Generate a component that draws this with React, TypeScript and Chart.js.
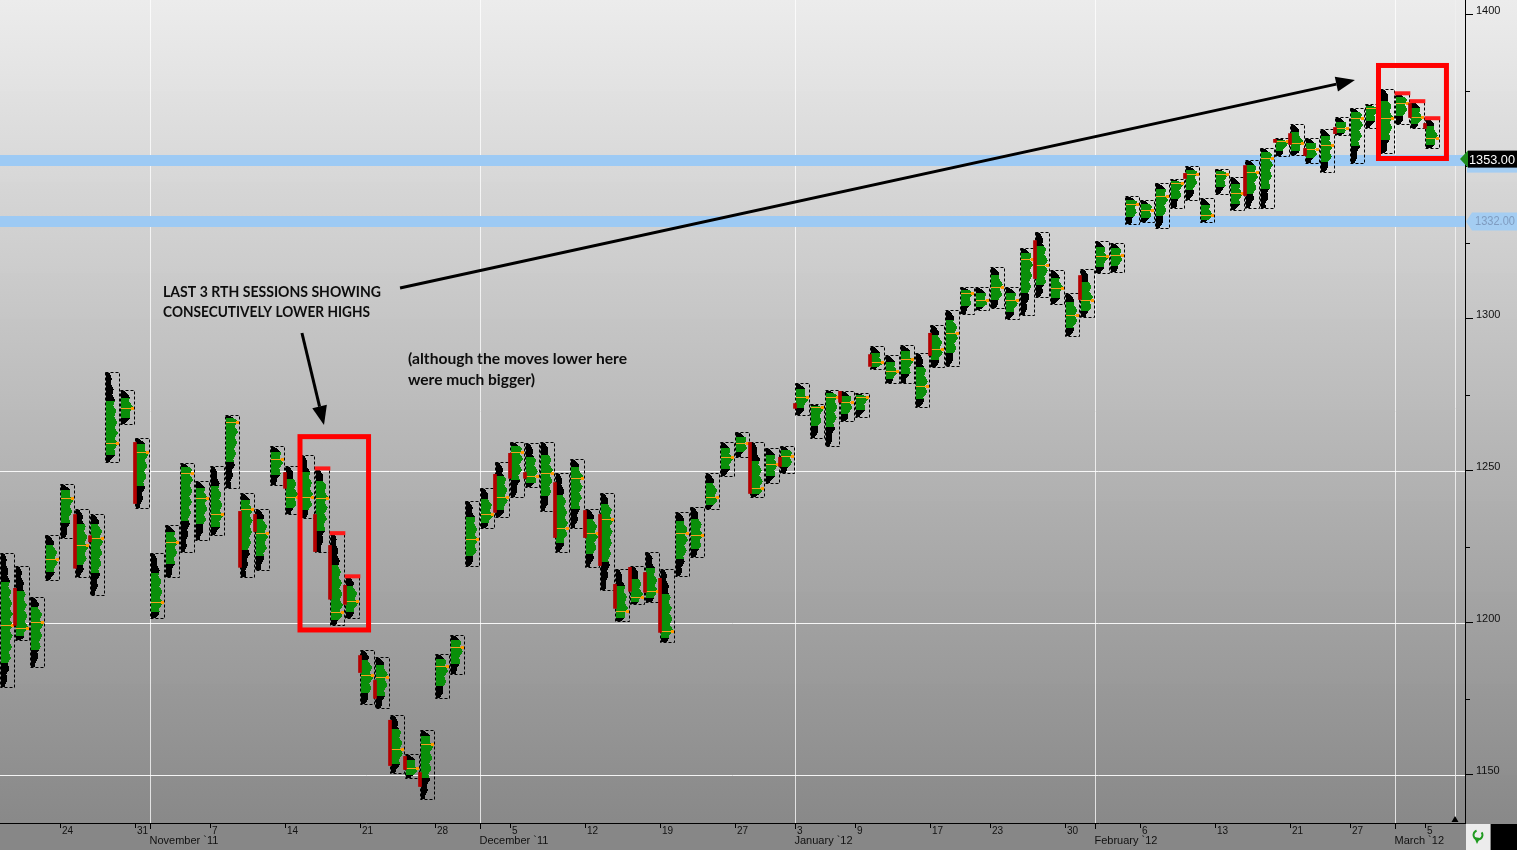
import React, { useEffect, useRef } from 'react';
import { Chart, registerables } from 'chart.js';
Chart.register(...registerables);

// ---------- DATA ----------
const sessionDates = [
  '2011-10-18','2011-10-19','2011-10-20','2011-10-21','2011-10-24','2011-10-25','2011-10-26','2011-10-27','2011-10-28','2011-10-31',
  '2011-11-01','2011-11-02','2011-11-03','2011-11-04','2011-11-07','2011-11-08','2011-11-09','2011-11-10','2011-11-11','2011-11-14',
  '2011-11-15','2011-11-16','2011-11-17','2011-11-18','2011-11-21','2011-11-22','2011-11-23','2011-11-24','2011-11-25','2011-11-28',
  '2011-11-29','2011-11-30','2011-12-01','2011-12-02','2011-12-05','2011-12-06','2011-12-07','2011-12-08','2011-12-09','2011-12-12',
  '2011-12-13','2011-12-14','2011-12-15','2011-12-16','2011-12-19','2011-12-20','2011-12-21','2011-12-22','2011-12-23','2011-12-27',
  '2011-12-28','2011-12-29','2011-12-30','2012-01-03','2012-01-04','2012-01-05','2012-01-06','2012-01-09','2012-01-10','2012-01-11',
  '2012-01-12','2012-01-13','2012-01-17','2012-01-18','2012-01-19','2012-01-20','2012-01-23','2012-01-24','2012-01-25','2012-01-26',
  '2012-01-27','2012-01-30','2012-01-31','2012-02-01','2012-02-02','2012-02-03','2012-02-06','2012-02-07','2012-02-08','2012-02-09',
  '2012-02-10','2012-02-13','2012-02-14','2012-02-15','2012-02-16','2012-02-17','2012-02-21','2012-02-22','2012-02-23','2012-02-24',
  '2012-02-27','2012-02-28','2012-02-29','2012-03-01','2012-03-02','2012-03-05'
];

const sessionHigh = [
  1222.8,1218.5,1208.6,1229.0,1245.5,1237.3,1235.6,1282.3,1276.4,1260.6,
  1222.8,1232.0,1252.4,1246.5,1251.7,1268.2,1242.5,1237.3,1258.0,1251.4,
  1255.3,1250.7,1229.4,1215.2,1190.9,1188.6,1169.5,1156.7,1164.6,1189.6,
  1196.1,1239.9,1244.2,1252.7,1259.3,1259.0,1259.6,1249.1,1253.7,1237.3,
  1242.5,1217.5,1218.5,1223.4,1217.5,1236.3,1237.9,1249.4,1259.3,1262.6,
  1259.6,1257.3,1258.0,1278.7,1272.1,1276.7,1276.1,1275.7,1290.9,1288.2,
  1291.5,1288.6,1297.8,1303.0,1310.3,1310.3,1316.9,1310.3,1323.1,1328.4,
  1315.9,1308.6,1316.2,1325.7,1324.8,1340.5,1339.2,1344.5,1346.1,1350.1,
  1339.6,1349.4,1346.5,1352.1,1356.0,1359.6,1364.2,1359.3,1362.3,1366.2,
  1369.2,1370.5,1375.7,1374.1,1371.5,1365.9
];

const sessionLow = [
  1178.7,1194.2,1185.3,1214.2,1227.7,1214.9,1209.0,1253.0,1265.2,1237.6,
  1201.7,1214.9,1223.1,1227.1,1229.0,1244.2,1214.9,1217.2,1245.2,1235.9,
  1234.3,1223.1,1199.1,1201.4,1173.1,1171.8,1150.7,1148.8,1141.9,1175.1,
  1183.0,1218.8,1231.3,1234.6,1241.2,1244.5,1236.6,1223.1,1231.0,1218.2,
  1210.9,1200.7,1206.0,1206.7,1193.5,1215.2,1221.5,1237.3,1248.1,1254.4,
  1241.2,1245.8,1249.1,1268.2,1260.9,1258.0,1266.5,1267.5,1283.3,1279.0,
  1279.0,1270.8,1284.0,1284.6,1301.7,1303.0,1303.4,1299.8,1301.1,1307.0,
  1304.7,1294.2,1300.4,1314.9,1315.5,1331.3,1331.7,1329.7,1336.3,1339.2,
  1331.7,1340.9,1335.9,1336.3,1336.3,1353.4,1353.7,1351.1,1348.1,1360.3,
  1351.1,1362.6,1354.4,1364.2,1362.6,1356.0
];

const sessionPoc = [
  1199.1,1198.1,1200.1,1220.8,1240.9,1225.4,1227.7,1259.0,1270.5,1256.0,
  1206.7,1226.4,1249.4,1240.9,1235.9,1265.9,1237.3,1229.4,1254.0,1241.2,
  1241.5,1240.9,1203.4,1207.0,1182.7,1182.0,1158.6,1152.1,1160.0,1185.9,
  1191.9,1227.4,1235.9,1241.5,1256.0,1248.4,1249.4,1231.3,1247.5,1229.4,
  1234.0,1203.7,1208.6,1210.3,1197.1,1229.4,1229.0,1241.5,1254.4,1259.0,
  1244.2,1252.1,1254.7,1274.4,1270.8,1274.1,1272.5,1274.1,1285.6,1282.7,
  1286.6,1278.0,1290.1,1295.2,1308.3,1306.0,1310.3,1306.0,1319.5,1317.5,
  1310.0,1301.1,1306.0,1320.5,1320.8,1337.6,1335.9,1340.2,1344.5,1347.5,
  1334.0,1347.5,1341.2,1348.1,1353.0,1358.3,1357.7,1355.7,1357.3,1362.6,
  1365.9,1369.2,1365.9,1370.8,1366.2,1359.3
];

// initial-balance (red) bars: session index, top, bottom
const ibIndex = [1,5,6,9,16,17,19,21,22,23,24,25,26,27,28,33,34,35,37,39,40,41,42,43,44,50,52,53,56,58,62,69,72,79,83,85,86,87,89,94,95];
const ibHigh = [1211.3,1235.6,1228.6,1259.3,1236.6,1235.6,1249.4,1235.6,1225.4,1212.3,1189.2,1181.0,1167.9,1156.0,1150.7,1248.8,1255.7,1249.4,1246.1,1236.9,1235.6,1212.6,1218.2,1216.5,1214.6,1259.3,1254.4,1272.1,1276.1,1288.2,1295.2,1325.7,1314.2,1347.8,1350.4,1359.0,1360.9,1356.0,1362.9,1370.8,1364.2];
const ibLow = [1199.1,1217.9,1226.6,1239.2,1218.2,1230.0,1244.2,1223.4,1207.7,1206.0,1183.6,1175.1,1153.0,1151.7,1146.1,1236.3,1247.5,1247.5,1228.0,1228.0,1218.8,1204.7,1210.3,1210.0,1196.8,1242.5,1251.4,1270.5,1272.5,1284.3,1287.9,1313.2,1306.3,1346.1,1340.5,1358.0,1357.3,1353.7,1360.9,1366.2,1362.6];

// sessions whose highs are marked in red (consecutively lower highs)
const lowerHighIndex = [21, 22, 23, 93, 94, 95];

// x-axis ticks
const dayTickIndex = [4, 9, 14, 19, 24, 29, 34, 39, 44, 49, 53, 57, 62, 66, 71, 76, 81, 86, 90, 95];
const dayTickLabels = ['24','31','7','14','21','28','5','12','19','27','3','9','17','23','30','6','13','21','27','5'];
const monthIndex = [10, 32, 53, 73, 93];
const monthLabels = ['November `11', 'December `11', 'January `12', 'February `12', 'March `12'];

// y-axis
const yTickValues = [1150, 1175, 1200, 1225, 1250, 1275, 1300, 1325, 1350, 1375, 1400];
const gridPrices = [1150, 1200, 1250];

// horizontal levels
const levelPrices = [1352.0, 1332.0];
const levelLabels = ['1353.00', '1332.00'];

// annotations (data coordinates)
const highlightBoxes = [
  [20.0, 24.57, 1261.2, 1197.6],
  [91.9, 96.43, 1383.3, 1352.7],
];
const arrowLines = [
  [26.67, 1310.1, 90.33, 1378.5],
  [20.13, 1295.3, 21.6, 1265.0],
];
const noteTexts = ['LAST 3 RTH SESSIONS SHOWING', 'CONSECUTIVELY LOWER HIGHS', '(although the moves lower here', 'were much bigger)'];
const noteX = [10.87, 10.87, 27.2, 27.2];
const noteY = [1307.1, 1300.6, 1285.1, 1278.2];
const noteWidth = [218, 207, 219, 127];

const CURRENT_INDEX = 97.0;

// ---------- RENDERING ----------
const W = 1517;
const H = 850;
const grey = (l: number) => {
  const v = Math.round(Math.max(0, Math.min(255, l)));
  return `rgb(${v},${v},${v})`;
};

export default function App() {
  const ref = useRef<HTMLCanvasElement>(null);

  useEffect(() => {
    const canvas = ref.current;
    if (!canvas) return;

    const bgPlugin = {
      id: 'bgPlugin',
      beforeDraw(chart: any) {
        const { ctx, chartArea: ca } = chart;
        ctx.save();
        const bandH = 45.6;
        for (let k = 0; k * bandH < H; k++) {
          const y0 = k * bandH;
          const mid = Math.min(y0 + bandH / 2, ca.bottom);
          const L = 237 - (mid / ca.bottom) * 100;
          const g = ctx.createLinearGradient(0, y0, 0, y0 + bandH);
          g.addColorStop(0, grey(L + 2));
          g.addColorStop(1, grey(L - 3));
          ctx.fillStyle = g;
          ctx.fillRect(0, Math.floor(y0), W, Math.ceil(bandH) + 1);
        }
        ctx.fillStyle = '#878787';
        ctx.fillRect(0, ca.bottom, ca.right + 1, H - ca.bottom);
        ctx.restore();
      },
    };

    const sessionPlugin = {
      id: 'sessionPlugin',
      beforeDatasetsDraw(chart: any) {
        const { ctx, chartArea: ca } = chart;
        const xs = chart.scales.x;
        const ys = chart.scales.y;
        ctx.save();
        ctx.beginPath();
        ctx.rect(ca.left, ca.top, ca.right - ca.left, ca.bottom - ca.top);
        ctx.clip();

        // white grid lines
        ctx.strokeStyle = 'rgba(255,255,255,0.9)';
        ctx.lineWidth = 1;
        gridPrices.forEach((p) => {
          const y = Math.round(ys.getPixelForValue(p)) + 0.5;
          ctx.beginPath();
          ctx.moveTo(ca.left, y);
          ctx.lineTo(ca.right, y);
          ctx.stroke();
        });
        ctx.strokeStyle = 'rgba(255,255,255,0.75)';
        monthIndex.forEach((i) => {
          const x = Math.round(xs.getPixelForValue(i)) + 0.5;
          ctx.beginPath();
          ctx.moveTo(x, ca.top);
          ctx.lineTo(x, ca.bottom);
          ctx.stroke();
        });
        {
          const x = Math.round(xs.getPixelForValue(CURRENT_INDEX)) + 0.5;
          ctx.strokeStyle = 'rgba(240,240,240,0.9)';
          ctx.beginPath();
          ctx.moveTo(x, ca.top);
          ctx.lineTo(x, ca.bottom - 6);
          ctx.stroke();
          ctx.fillStyle = '#000';
          ctx.beginPath();
          ctx.moveTo(x - 4, ca.bottom - 1);
          ctx.lineTo(x + 3, ca.bottom - 1);
          ctx.lineTo(x - 0.5, ca.bottom - 7);
          ctx.closePath();
          ctx.fill();
        }

        // blue levels
        ctx.strokeStyle = '#9dcaf4';
        ctx.lineWidth = 11;
        levelPrices.forEach((p) => {
          const y = ys.getPixelForValue(p);
          ctx.beginPath();
          ctx.moveTo(ca.left, y);
          ctx.lineTo(ca.right, y);
          ctx.stroke();
        });

        // market profiles
        for (let i = 0; i < sessionDates.length; i++) {
          const xl = Math.round(xs.getPixelForValue(i));
          const xr = Math.round(xs.getPixelForValue(i + 1));
          const yT = Math.round(ys.getPixelForValue(sessionHigh[i]));
          const yB = Math.round(ys.getPixelForValue(sessionLow[i]));
          const yP = Math.round(ys.getPixelForValue(sessionPoc[i]));
          const up = Math.max(3, yP - yT);
          const dn = Math.max(3, yB - yP);
          const vaT = yP - up * 0.6;
          const vaB = yP + dn * 0.6;
          const maxW = xr - xl - 3;
          for (let y = yT + 1; y < yB; y++) {
            const d = Math.min(1, y < yP ? (yP - y) / up : (y - yP) / dn);
            const ph = ((y - yT) % 11) / 11;
            const tri = 1 - Math.abs(2 * ph - 1);
            const rip = 0.74 + 0.26 * tri;
            const w = Math.max(1, Math.round(maxW * (1 - 0.62 * d * d) * rip));
            ctx.fillStyle = y < vaT || y > vaB ? '#000000' : '#0a8f0a';
            ctx.fillRect(xl + 1, y, w, 1);
          }
          // dashed range box
          ctx.strokeStyle = '#000';
          ctx.lineWidth = 1;
          ctx.setLineDash([3, 2]);
          ctx.strokeRect(xl + 0.5, yT + 0.5, xr - xl - 1, yB - yT);
          ctx.setLineDash([]);
          // point of control
          ctx.strokeStyle = '#f2a21c';
          ctx.beginPath();
          ctx.moveTo(xl + 1, yP + 0.5);
          ctx.lineTo(xr - 2, yP + 0.5);
          ctx.stroke();
          ctx.fillStyle = '#ff9800';
          ctx.fillRect(xr - 4, yP - 1, 3, 3);
        }
        ctx.restore();
      },
      afterDatasetsDraw(chart: any) {
        const { ctx } = chart;
        const xs = chart.scales.x;
        const ys = chart.scales.y;
        ctx.save();
        // red highlight boxes
        ctx.strokeStyle = '#ff0000';
        ctx.lineWidth = 5;
        highlightBoxes.forEach(([x1, x2, p1, p2]) => {
          const a = xs.getPixelForValue(x1);
          const b = xs.getPixelForValue(x2);
          const c = ys.getPixelForValue(p1);
          const d = ys.getPixelForValue(p2);
          ctx.strokeRect(a, c, b - a, d - c);
        });
        // arrows
        ctx.strokeStyle = '#000';
        ctx.fillStyle = '#000';
        ctx.lineWidth = 3;
        arrowLines.forEach(([x1, p1, x2, p2]) => {
          const ax = xs.getPixelForValue(x1);
          const ay = ys.getPixelForValue(p1);
          const bx = xs.getPixelForValue(x2);
          const by = ys.getPixelForValue(p2);
          const ang = Math.atan2(by - ay, bx - ax);
          const hl = 19;
          const hw = 7.5;
          const cx = bx - hl * Math.cos(ang);
          const cy = by - hl * Math.sin(ang);
          ctx.beginPath();
          ctx.moveTo(ax, ay);
          ctx.lineTo(cx, cy);
          ctx.stroke();
          ctx.beginPath();
          ctx.moveTo(bx, by);
          ctx.lineTo(cx + hw * Math.sin(ang), cy - hw * Math.cos(ang));
          ctx.lineTo(cx - hw * Math.sin(ang), cy + hw * Math.cos(ang));
          ctx.closePath();
          ctx.fill();
        });
        // notes
        ctx.fillStyle = '#0d0d0d';
        ctx.textBaseline = 'alphabetic';
        ctx.textAlign = 'left';
        ctx.font = 'bold 15px Lato, "Open Sans", sans-serif';
        noteTexts.forEach((t, k) => {
          const px = xs.getPixelForValue(noteX[k]);
          const py = ys.getPixelForValue(noteY[k]);
          const m = ctx.measureText(t).width;
          ctx.save();
          ctx.translate(px, py);
          ctx.scale(noteWidth[k] / m, 1);
          ctx.fillText(t, 0, 0);
          ctx.restore();
        });
        ctx.restore();
      },
      afterDraw(chart: any) {
        const { ctx, chartArea: ca } = chart;
        const xs = chart.scales.x;
        const ys = chart.scales.y;
        ctx.save();
        // x axis baseline
        ctx.strokeStyle = '#000';
        ctx.lineWidth = 1;
        ctx.beginPath();
        ctx.moveTo(0, ca.bottom + 0.5);
        ctx.lineTo(ca.right + 1, ca.bottom + 0.5);
        ctx.stroke();
        // day ticks
        ctx.fillStyle = '#111';
        ctx.textAlign = 'left';
        ctx.textBaseline = 'alphabetic';
        ctx.font = '10px "Liberation Sans", Arial, sans-serif';
        dayTickIndex.forEach((i, k) => {
          const x = Math.round(xs.getPixelForValue(i)) + 0.5;
          ctx.beginPath();
          ctx.moveTo(x, ca.bottom);
          ctx.lineTo(x, ca.bottom + 5);
          ctx.stroke();
          ctx.fillText(dayTickLabels[k], x + 1.5, ca.bottom + 11);
        });
        ctx.font = '11px "Liberation Sans", Arial, sans-serif';
        monthIndex.forEach((i, k) => {
          const x = Math.round(xs.getPixelForValue(i)) + 0.5;
          ctx.beginPath();
          ctx.moveTo(x, ca.bottom);
          ctx.lineTo(x, ca.bottom + 6);
          ctx.stroke();
          ctx.fillText(monthLabels[k], x - 1, ca.bottom + 21);
        });
        // minor y ticks
        const axX = ys.left;
        yTickValues.forEach((v) => {
          if (v % 50 !== 0) {
            const y = Math.round(ys.getPixelForValue(v)) + 0.5;
            ctx.beginPath();
            ctx.moveTo(axX, y);
            ctx.lineTo(axX + 5, y);
            ctx.stroke();
          }
        });
        // level labels on price axis
        const y1 = ys.getPixelForValue(levelPrices[0]);
        ctx.fillStyle = '#a4cdf2';
        ctx.fillRect(axX + 2, y1 - 5, W - axX - 2, 17);
        ctx.fillStyle = '#000';
        ctx.fillRect(axX + 3, y1 - 10, W - axX - 3, 17);
        ctx.fillStyle = '#1d8c1d';
        ctx.beginPath();
        ctx.moveTo(axX - 5, y1 - 1.5);
        ctx.lineTo(axX + 3, y1 - 10);
        ctx.lineTo(axX + 3, y1 + 7);
        ctx.closePath();
        ctx.fill();
        ctx.fillStyle = '#fff';
        ctx.font = '13px "Liberation Sans", Arial, sans-serif';
        {
          const m = ctx.measureText(levelLabels[0]).width;
          ctx.save();
          ctx.translate(axX + 4, y1 + 3);
          ctx.scale(46 / m, 1);
          ctx.fillText(levelLabels[0], 0, 0);
          ctx.restore();
        }

        const y2 = ys.getPixelForValue(levelPrices[1]);
        ctx.fillStyle = '#a4cdf2';
        ctx.beginPath();
        ctx.moveTo(axX + 1, y2);
        ctx.lineTo(axX + 7, y2 - 9);
        ctx.lineTo(W, y2 - 9);
        ctx.lineTo(W, y2 + 9);
        ctx.lineTo(axX + 7, y2 + 9);
        ctx.closePath();
        ctx.fill();
        ctx.fillStyle = '#7f9cc0';
        ctx.font = '12px "Liberation Sans", Arial, sans-serif';
        {
          const m = ctx.measureText(levelLabels[1]).width;
          ctx.save();
          ctx.translate(axX + 10, y2 + 4);
          ctx.scale(40 / m, 1);
          ctx.fillText(levelLabels[1], 0, 0);
          ctx.restore();
        }

        // bottom-right corner widgets
        ctx.fillStyle = '#ececec';
        ctx.fillRect(axX + 1, ca.bottom + 1, 24, H - ca.bottom);
        ctx.fillStyle = '#000';
        ctx.fillRect(axX + 26, ca.bottom + 1, W - axX - 26, H - ca.bottom);
        ctx.strokeStyle = '#1e9a1e';
        ctx.lineWidth = 2;
        ctx.beginPath();
        ctx.arc(axX + 13, ca.bottom + 12, 4.5, -Math.PI * 0.2, Math.PI * 1.4);
        ctx.stroke();
        ctx.fillStyle = '#1e9a1e';
        ctx.beginPath();
        ctx.moveTo(axX + 9, ca.bottom + 14);
        ctx.lineTo(axX + 12, ca.bottom + 21);
        ctx.lineTo(axX + 15, ca.bottom + 15);
        ctx.closePath();
        ctx.fill();
        ctx.restore();
      },
    };

    const chart = new Chart(canvas, {
      type: 'bar',
      data: {
        datasets: [
          {
            type: 'bar',
            label: 'Initial balance',
            data: ibIndex.map((d, k) => ({ x: d, y: [ibLow[k], ibHigh[k]] })) as any,
            backgroundColor: '#b40000',
            barThickness: 3,
            grouped: false,
          } as any,
          {
            type: 'bar',
            label: 'Lower highs',
            data: lowerHighIndex.map((i) => ({ x: i + 0.5, y: [sessionHigh[i] - 0.5, sessionHigh[i] + 0.6] })) as any,
            backgroundColor: '#ff1a1a',
            barThickness: 15,
            grouped: false,
          } as any,
        ],
      },
      options: {
        animation: false,
        responsive: false,
        maintainAspectRatio: false,
        devicePixelRatio: 1,
        layout: { padding: { left: 0, right: 0, top: 0, bottom: 27 } },
        plugins: { legend: { display: false }, tooltip: { enabled: false } },
        scales: {
          x: {
            type: 'linear',
            min: 0,
            max: 97.667,
            offset: false,
            display: false,
            grid: { offset: false },
          },
          y: {
            type: 'linear',
            position: 'right',
            min: 1134.1,
            max: 1404.84,
            beginAtZero: false,
            afterBuildTicks: (scale: any) => {
              scale.ticks = yTickValues.map((v) => ({ value: v }));
            },
            afterFit: (scale: any) => {
              scale.width = 52;
              scale.paddingTop = 0;
              scale.paddingBottom = 0;
            },
            border: { display: true, color: '#000', width: 1 },
            grid: {
              drawOnChartArea: false,
              drawTicks: true,
              tickLength: 8,
              tickColor: (c: any) => (c.tick && c.tick.value % 50 === 0 ? '#000' : 'rgba(0,0,0,0)'),
            },
            ticks: {
              padding: 3,
              labelOffset: -4,
              color: '#111',
              font: { family: '"Liberation Sans", Arial, sans-serif', size: 11 },
              callback: (v: any) => (Number(v) % 50 === 0 ? String(v) : ''),
            },
          },
        },
      } as any,
      plugins: [bgPlugin, sessionPlugin],
    });

    return () => chart.destroy();
  }, []);

  return (
    <canvas
      ref={ref}
      width={W}
      height={H}
      style={{ position: 'fixed', left: 0, top: 0, display: 'block', width: W + 'px', height: H + 'px' }}
    />
  );
}
